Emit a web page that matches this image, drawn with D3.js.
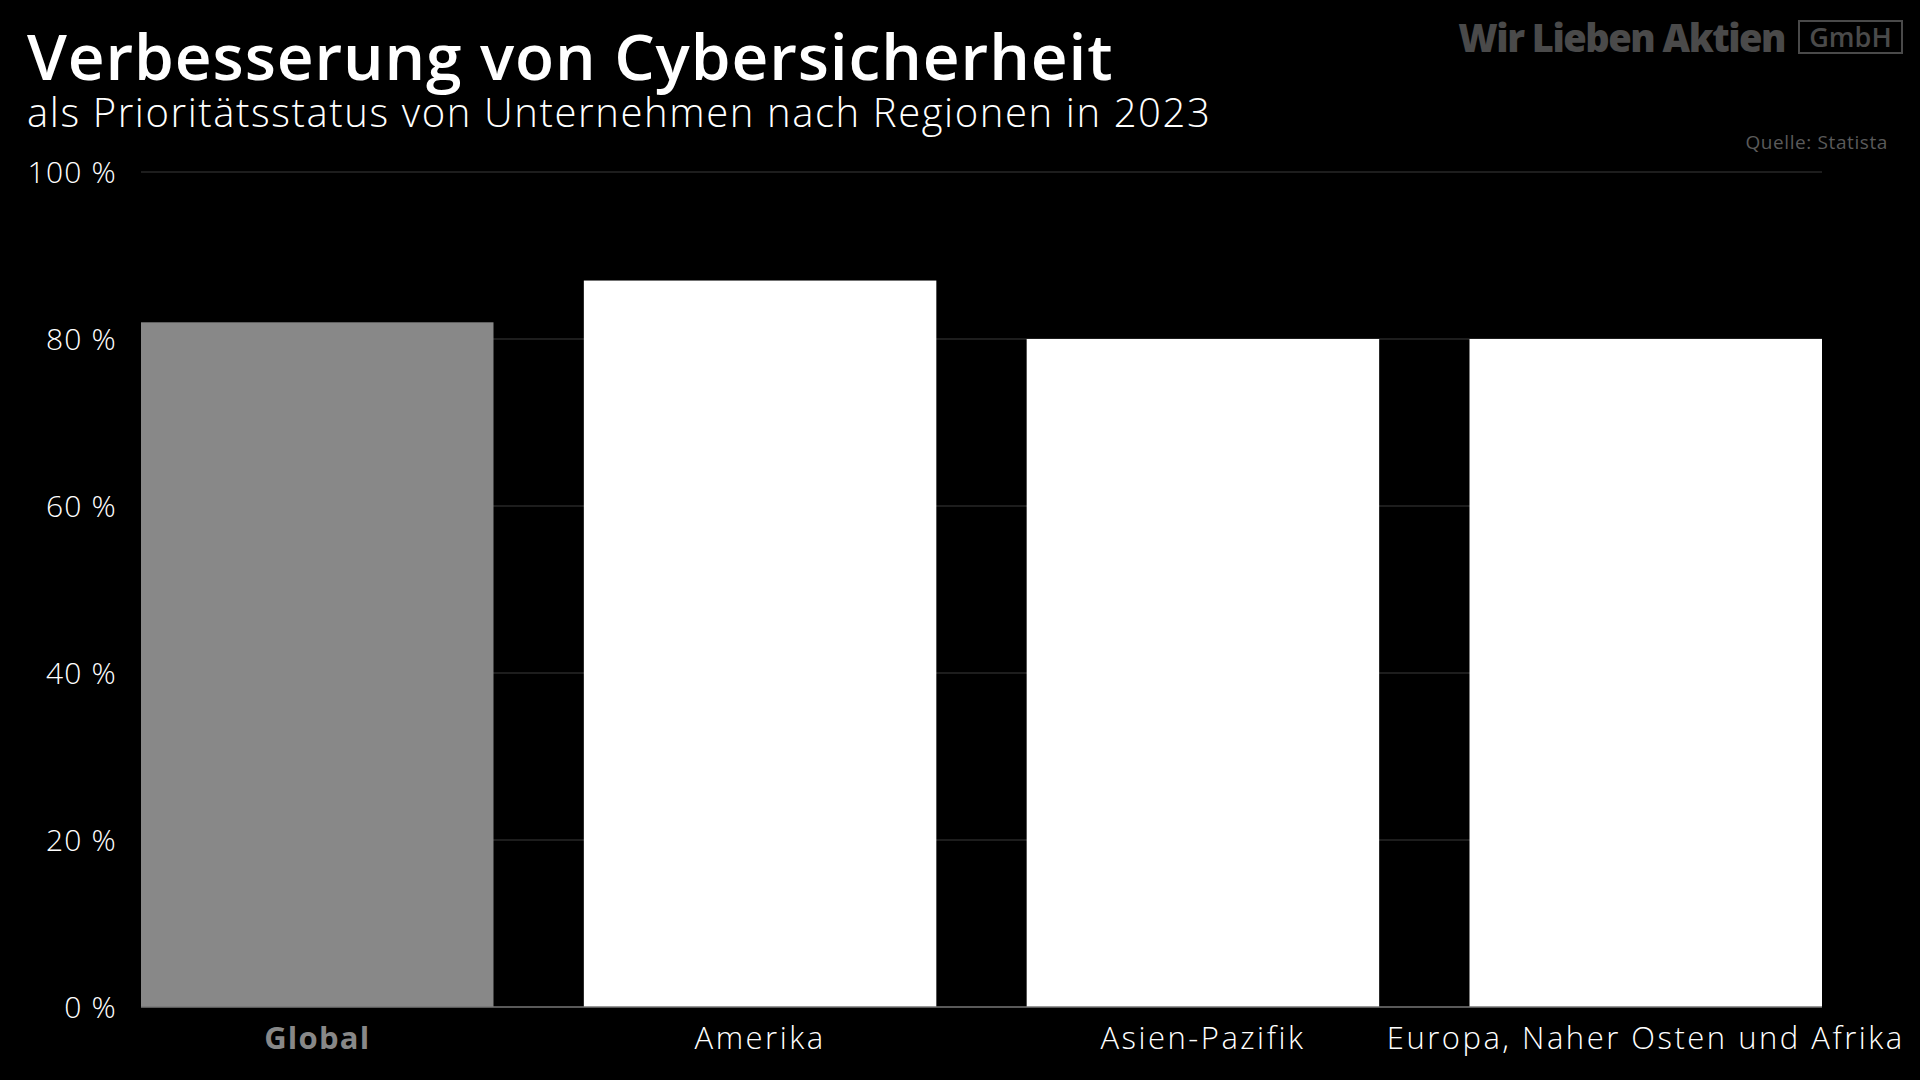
<!DOCTYPE html>
<html>
<head>
<meta charset="utf-8">
<script src="https://cdn.jsdelivr.net/npm/d3@7"></script>
<style>
  html, body { margin: 0; padding: 0; background: #000; }
  svg { display: block; }
</style>
</head>
<body>
<svg id="chart" width="1920" height="1080"></svg>
<script>
const categories = ["Global", "Amerika", "Asien-Pazifik", "Europa, Naher Osten und Afrika"];
const values = [82, 87, 80, 80];
const yTicks = [0, 20, 40, 60, 80, 100];
const titleText = "Verbesserung von Cybersicherheit";
const subtitleText = "als Prioritätsstatus von Unternehmen nach Regionen in 2023";
const sourceText = "Quelle: Statista";

(function () {
const svg = d3.select("#chart");
const W = 1920, H = 1080;
svg.append("rect").attr("width", W).attr("height", H).attr("fill", "#000");

const pLeft = 141, pRight = 1822, pTop = 172, pBottom = 1007;
const x = d3.scaleBand().domain(categories).range([pLeft, pRight]).paddingInner(0.204).paddingOuter(0);
const y = d3.scaleLinear().domain([0, 100]).range([pBottom, pTop]);

const font = "'Open Sans', 'Noto Sans', sans-serif";

// gridlines
svg.append("g").selectAll("line").data(yTicks.filter(d => d > 0)).join("line")
  .attr("x1", pLeft).attr("x2", pRight)
  .attr("y1", d => y(d)).attr("y2", d => y(d))
  .attr("stroke", "#3a3a3a").attr("stroke-width", 1.2);

// bars
svg.append("g").selectAll("rect").data(categories).join("rect")
  .attr("x", d => x(d))
  .attr("width", x.bandwidth())
  .attr("y", (d, i) => y(values[i]))
  .attr("height", (d, i) => y(0) - y(values[i]))
  .attr("fill", (d, i) => i === 0 ? "#888888" : "#ffffff");

// baseline axis
svg.append("line").attr("x1", pLeft).attr("x2", pRight).attr("y1", y(0)).attr("y2", y(0))
  .attr("stroke", "#777").attr("stroke-width", 1.5);

// y axis labels
const yAxis = d3.axisLeft(y).tickValues(yTicks).tickSize(0).tickPadding(0).tickFormat(d => d + " %");
const yg = svg.append("g").attr("transform", `translate(117,0)`).call(yAxis);
yg.select(".domain").remove();
yg.selectAll("text").attr("fill", "#fff").attr("font-family", font).attr("font-weight", 300)
  .attr("font-size", 30).attr("letter-spacing", 1.2).attr("dy", "0.35em");

// x axis labels
const xAxis = d3.axisBottom(x).tickSize(0).tickPadding(0);
const xg = svg.append("g").attr("transform", `translate(0,${pBottom})`).call(xAxis);
xg.select(".domain").remove();
xg.selectAll("text")
  .attr("font-family", font).attr("font-size", 31)
  .attr("dy", 0).attr("y", 42)
  .attr("fill", (d, i) => i === 0 ? "#888" : "#fff")
  .attr("font-weight", (d, i) => i === 0 ? 700 : 300)
  .attr("letter-spacing", (d, i) => i === 0 ? 1.2 : 2.5);

// titles
svg.append("text").attr("x", 27).attr("y", 80).text(titleText)
  .attr("fill", "#fff").attr("font-family", font).attr("font-weight", 600).attr("font-size", 64)
  .attr("letter-spacing", 0.9);
svg.append("text").attr("x", 27).attr("y", 127).text(subtitleText)
  .attr("fill", "#fff").attr("font-family", font).attr("font-weight", 300).attr("font-size", 40)
  .attr("letter-spacing", 1.6);

// source
svg.append("text").attr("x", 1888).attr("y", 149).attr("text-anchor", "end").text(sourceText)
  .attr("fill", "#5a5a5a").attr("font-family", font).attr("font-size", 19).attr("letter-spacing", 0.6);

// logo
svg.append("text").attr("x", 1785).attr("y", 52).attr("text-anchor", "end").text("Wir Lieben Aktien")
  .attr("fill", "#4a4a4a").attr("font-family", font).attr("font-weight", 800).attr("font-size", 38)
  .attr("letter-spacing", -1.5);
svg.append("rect").attr("x", 1799).attr("y", 21).attr("width", 103).attr("height", 32)
  .attr("fill", "none").attr("stroke", "#4a4a4a").attr("stroke-width", 2);
svg.append("text").attr("x", 1850.5).attr("y", 47).attr("text-anchor", "middle").text("GmbH")
  .attr("fill", "#4a4a4a").attr("font-family", font).attr("font-weight", 600).attr("font-size", 27);
})();
</script>
</body>
</html>
